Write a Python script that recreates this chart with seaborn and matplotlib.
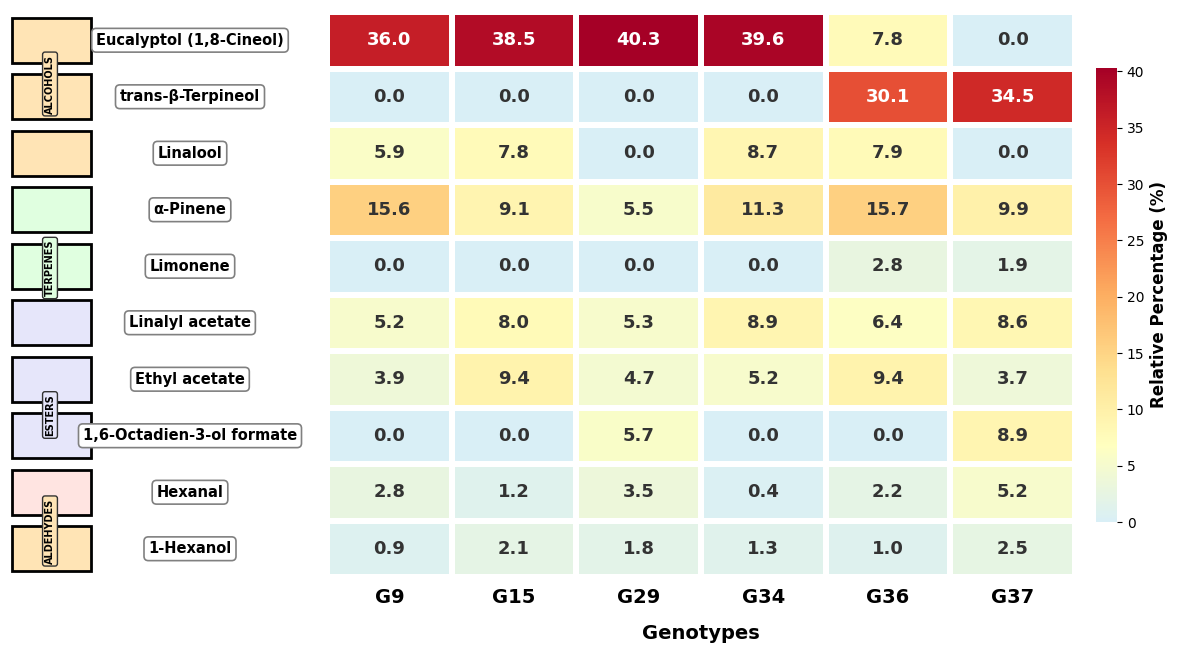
import numpy as np
import pandas as pd
import matplotlib
matplotlib.use("Agg")
import matplotlib.pyplot as plt
import seaborn as sns
from matplotlib.colors import LinearSegmentedColormap
from matplotlib.patches import Rectangle

compounds = ["Eucalyptol (1,8-Cineol)", "trans-β-Terpineol", "Linalool", "α-Pinene", "Limonene",
             "Linalyl acetate", "Ethyl acetate", "1,6-Octadien-3-ol formate", "Hexanal", "1-Hexanol"]
genotypes = ["G9", "G15", "G29", "G34", "G36", "G37"]
values = [
    [36.0, 38.5, 40.3, 39.6, 7.8, 0.0],
    [0.0, 0.0, 0.0, 0.0, 30.1, 34.5],
    [5.9, 7.8, 0.0, 8.7, 7.9, 0.0],
    [15.6, 9.1, 5.5, 11.3, 15.7, 9.9],
    [0.0, 0.0, 0.0, 0.0, 2.8, 1.9],
    [5.2, 8.0, 5.3, 8.9, 6.4, 8.6],
    [3.9, 9.4, 4.7, 5.2, 9.4, 3.7],
    [0.0, 0.0, 5.7, 0.0, 0.0, 8.9],
    [2.8, 1.2, 3.5, 0.4, 2.2, 5.2],
    [0.9, 2.1, 1.8, 1.3, 1.0, 2.5],
]
row_classes = ["Alcohols"] * 3 + ["Terpenes"] * 2 + ["Esters"] * 3 + ["Aldehydes", "Alcohols"]
class_colors = {"Alcohols": "#FFE4B5", "Terpenes": "#E0FFE0", "Esters": "#E6E6FA", "Aldehydes": "#FFE4E1"}
class_labels = [("ALCOHOLS", 84, "#FFE4B5"), ("TERPENES", 268, "#E0FFE0"),
                ("ESTERS", 415, "#E6E6FA"), ("ALDEHYDES", 531, "#FFE4B5")]

df = pd.DataFrame(values, index=compounds, columns=genotypes)
W, H = 1177, 652
fig = plt.figure(figsize=(W / 100, H / 100), dpi=100)
ax = fig.add_axes([327 / W, (H - 577) / H, 748 / W, 565 / H])
cax = fig.add_axes([1096 / W, (H - 522) / H, 21 / W, 454 / H])

cmap = LinearSegmentedColormap.from_list("c", ["#d9eff6", "#ffffc0", "#fee090", "#fdae61",
                                              "#f46d43", "#d73027", "#a50026"])
sns.heatmap(df, ax=ax, cbar_ax=cax, cmap=cmap, vmin=0, vmax=40.3, linewidths=3, linecolor="white",
            annot=False)
for i, row in enumerate(values):
    for j, v in enumerate(row):
        ax.text(j + 0.5, i + 0.5, f"{v:.1f}", ha="center", va="center", fontsize=13, fontweight="bold",
                color="white" if v > 25 else "#333333")
ax.set_yticks([])
ax.set_ylabel("")
ax.tick_params(axis="x", length=0, labelsize=14, pad=8)
for t in ax.get_xticklabels():
    t.set_fontweight("bold")
ax.set_xlabel("Genotypes", fontsize=14, fontweight="bold", labelpad=12)
cax.set_ylabel("Relative Percentage (%)", fontsize=12, fontweight="bold")
cax.tick_params(labelsize=10)
for s in cax.spines.values():
    s.set_visible(False)

for i, (name, cls) in enumerate(zip(compounds, row_classes)):
    yc = 12 + 565 * (i + 0.5) / len(compounds)
    fig.patches.append(Rectangle((12 / W, (H - yc - 22.5) / H), 79 / W, 45 / H, transform=fig.transFigure,
                                 facecolor=class_colors[cls], edgecolor="black", lw=2))
    fig.text(190 / W, (H - yc) / H, name, ha="center", va="center", fontsize=10.5, fontweight="bold",
             bbox=dict(boxstyle="round,pad=0.3", fc="white", ec="gray", lw=1.2))
for lab, yc, col in class_labels:
    fig.text(50 / W, (H - yc) / H, lab, ha="center", va="center", rotation=90, fontsize=7,
             fontweight="bold", bbox=dict(boxstyle="round,pad=0.25", fc=col, ec="#333333", lw=1))

fig.savefig("out.png", dpi=100)
